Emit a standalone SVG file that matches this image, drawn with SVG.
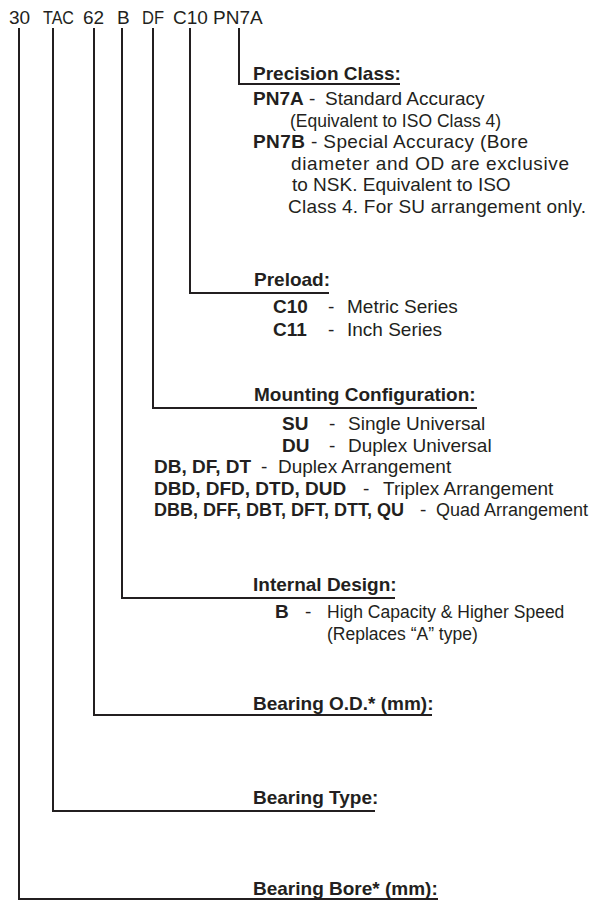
<svg xmlns="http://www.w3.org/2000/svg" width="594" height="901" viewBox="0 0 594 901">
<style>
text{font-family:"Liberation Sans",Arial,sans-serif;font-size:19px;fill:#231f20}
.b{font-weight:bold}
.s{font-size:17.5px}
.m{font-size:18px}
.c{fill:none;stroke:#231f20;stroke-width:2}
</style>
<rect width="594" height="901" fill="#fff"/>
<g id="connectors">
<path class="c" d="M239 28V84H400"/>
<path class="c" d="M190 28V293H329"/>
<path class="c" d="M153 28V408H477"/>
<path class="c" d="M122 28V598H395"/>
<path class="c" d="M94 28V715H432"/>
<path class="c" d="M53 28V811H375"/>
<path class="c" d="M19 28V899H438"/>
</g>
<g id="code">
<text x="9" y="24">30</text>
<text x="43" y="24" textLength="31" lengthAdjust="spacingAndGlyphs">TAC</text>
<text x="83" y="24">62</text>
<text x="117" y="24">B</text>
<text x="142" y="24" textLength="22" lengthAdjust="spacingAndGlyphs">DF</text>
<text x="173" y="24">C10</text>
<text x="213" y="24">PN7A</text>
</g>
<g id="precision">
<text class="b" x="253" y="80">Precision Class:</text>
<text x="253" y="105"><tspan class="b">PN7A</tspan> -</text>
<text x="325" y="105">Standard Accuracy</text>
<text class="s" x="290" y="126.5">(Equivalent to ISO Class 4)</text>
<text x="253" y="148" textLength="275" lengthAdjust="spacing"><tspan class="b">PN7B</tspan> - Special Accuracy (Bore</text>
<text x="291" y="169.5" textLength="278" lengthAdjust="spacing">diameter and OD are exclusive</text>
<text x="292" y="191">to NSK. Equivalent to ISO</text>
<text x="288" y="212.5" textLength="298" lengthAdjust="spacing">Class 4. For SU arrangement only.</text>
</g>
<g id="preload">
<text class="b" x="254" y="286">Preload:</text>
<text class="b" x="273" y="313">C10</text>
<text x="328" y="313">-</text>
<text x="347" y="313">Metric Series</text>
<text class="b" x="273" y="336">C11</text>
<text x="328" y="336">-</text>
<text x="347" y="336">Inch Series</text>
</g>
<g id="mounting">
<text class="b" x="254" y="401">Mounting Configuration:</text>
<text class="b" x="282" y="430">SU</text>
<text x="329" y="430">-</text>
<text x="348" y="430">Single Universal</text>
<text class="b" x="282" y="452">DU</text>
<text x="329" y="452">-</text>
<text x="348" y="452">Duplex Universal</text>
<text class="b" x="154" y="473">DB, DF, DT</text>
<text x="261" y="473">-</text>
<text x="278" y="473">Duplex Arrangement</text>
<text class="b" x="154" y="495">DBD, DFD, DTD, DUD</text>
<text x="363" y="495">-</text>
<text x="383" y="495">Triplex Arrangement</text>
<text class="b m" x="154" y="516">DBB, DFF, DBT, DFT, DTT, QU</text>
<text x="420" y="516">-</text>
<text class="m" x="436" y="516">Quad Arrangement</text>
</g>
<g id="internal">
<text class="b" x="253" y="591">Internal Design:</text>
<text class="b" x="275" y="618">B</text>
<text x="305" y="618">-</text>
<text class="s" x="327" y="618">High Capacity &amp; Higher Speed</text>
<text class="s" x="327" y="640">(Replaces “A” type)</text>
</g>
<g id="od">
<text class="b" x="253" y="710">Bearing O.D.* (mm):</text>
</g>
<g id="type">
<text class="b" x="253" y="804">Bearing Type:</text>
</g>
<g id="bore">
<text class="b" x="253" y="895">Bearing Bore* (mm):</text>
</g>
</svg>
